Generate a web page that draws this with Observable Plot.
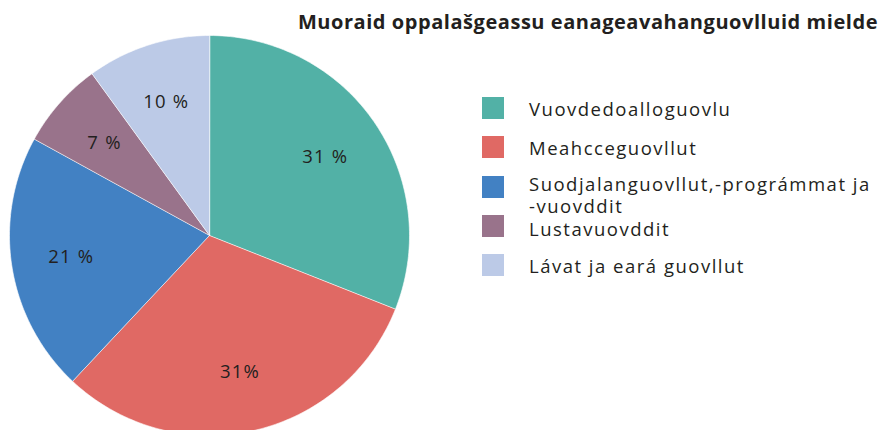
<!DOCTYPE html>
<html><head><meta charset="utf-8">
<script src="https://cdn.jsdelivr.net/npm/d3@7"></script>
<script src="https://cdn.jsdelivr.net/npm/@observablehq/plot@0.6"></script>
<style>
body{margin:0;background:#fff;}
#wrap{position:relative;width:881px;height:430px;overflow:hidden;font-family:"Open Sans",sans-serif;color:#231f20;}
#title{position:absolute;right:3px;top:8px;font-weight:700;font-size:20px;letter-spacing:0.55px;white-space:nowrap;line-height:normal;}
#legend{position:absolute;left:482px;top:97px;}
.row{display:flex;align-items:flex-start;height:39.3px;}
.sw{width:22px;height:22px;flex:none;}
.lab{margin-left:25px;margin-top:1px;font-size:18.5px;letter-spacing:1.5px;line-height:22px;white-space:pre;}
.row:nth-child(3) .lab{margin-top:-3px;}
.row:nth-child(4) .lab{margin-top:3px;}
#chart svg{position:absolute;left:0;top:0;}
#chart svg text{letter-spacing:1.2px;}
</style></head>
<body>
<div id="wrap">
  <div id="chart"></div>
  <div id="title"></div>
  <div id="legend"></div>
</div>
<script>
const title = "Muoraid oppalašgeassu eanageavahanguovlluid mielde";
const categories = ["Vuovdedoalloguovlu","Meahcceguovllut","Suodjalanguovllut,-prográmmat ja\n-vuovddit","Lustavuovddit","Lávat ja eará guovllut"];
const shares = [31, 31, 21, 7, 10];
const valueLabels = ["31 %", "31%", "21 %", "7 %", "10 %"];
const colors = ["#52b1a6", "#e06964", "#4281c3", "#99738b", "#bccae7"];

// slice polygons built from the shares (cumulative angle, clockwise from top)
const pts = [];
const labs = [];
let cum = 0;
const total = d3.sum(shares);
shares.forEach((v, i) => {
  const cat = categories[i];
  const a0 = cum / total * 2 * Math.PI, a1 = (cum + v) / total * 2 * Math.PI;
  pts.push({cat, x: 0, y: 0});
  const n = Math.max(4, Math.ceil(v * 3));
  for (let k = 0; k <= n; k++) {
    const a = a0 + (a1 - a0) * k / n;
    pts.push({cat, x: Math.sin(a), y: Math.cos(a)});
  }
  const am = (a0 + a1) / 2;
  labs.push({text: valueLabels[i], x: 0.7 * Math.sin(am), y: 0.7 * Math.cos(am)});
  cum += v;
});

const chart = Plot.plot({
  width: 881, height: 430,
  marginLeft: 9, marginRight: 472, marginTop: 35, marginBottom: 0,
  x: {domain: [-1, 1], axis: null},
  y: {domain: [-0.975, 1], axis: null},
  color: {domain: categories, range: colors},
  style: {background: "transparent", fontFamily: "Open Sans", color: "#231f20"},
  marks: [
    Plot.line(pts, {x: "x", y: "y", z: "cat", fill: "cat", stroke: "#ffffff", strokeWidth: 0.6, curve: "linear-closed"}),
    Plot.text(labs, {x: "x", y: "y", text: "text", fontSize: 18.5, fill: "#231f20"})
  ]
});
document.getElementById("chart").appendChild(chart);

document.getElementById("title").textContent = title;
const legend = d3.select("#legend");
categories.forEach((c, i) => {
  const row = legend.append("div").attr("class", "row");
  row.append("div").attr("class", "sw").style("background", colors[i]);
  row.append("div").attr("class", "lab").text(c);
});
</script>
</body></html>
